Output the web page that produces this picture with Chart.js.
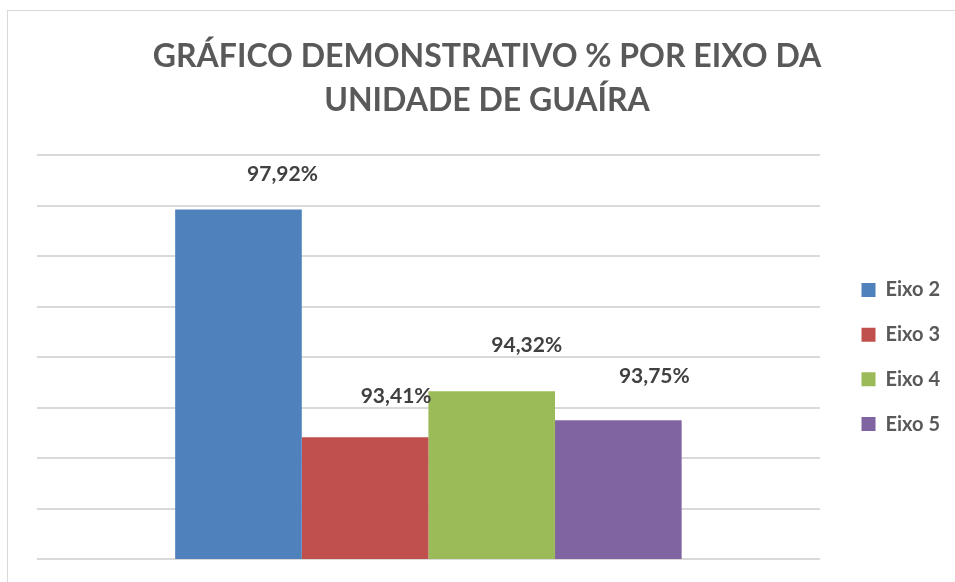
<!DOCTYPE html>
<html>
<head>
<meta charset="utf-8">
<script src="https://cdn.jsdelivr.net/npm/chart.js@4.4.0/dist/chart.umd.min.js"></script>
<style>
  html, body { margin: 0; padding: 0; background: #fff; overflow: hidden; }
  #frame { position: absolute; left: 7px; top: 10px; width: 1000px; height: 700px;
           border-left: 1.5px solid #d9d9d9; border-top: 1.5px solid #d9d9d9; }
  #wrap { position: absolute; left: 0; top: 0; width: 955px; height: 582px; }
</style>
</head>
<body>
<div id="frame"></div>
<div id="wrap"><canvas id="grafico"></canvas></div>
<script>
const titulo = ['GRÁFICO DEMONSTRATIVO % POR EIXO DA', 'UNIDADE DE GUAÍRA'];
const categorias = [''];
const eixos = ['Eixo 2', 'Eixo 3', 'Eixo 4', 'Eixo 5'];
const percentuais = [97.92, 93.41, 94.32, 93.75];
const escalaMin = 91;
const escalaMax = 99;

const cores = ['#4f81bd', '#c0504d', '#9bbb59', '#8064a2'];
// deslocamento dos rotulos (arrastados no original)
const rotuloDx = [44, 31, 35, 36];
const rotuloDy = [35, 41, 46, 44];

const fonte = 'Lato, "Open Sans", sans-serif';

const rotulosPlugin = {
    id: 'rotulos',
    afterDatasetsDraw(chart) {
        const ctx = chart.ctx;
        ctx.save();
        ctx.font = 'bold 21px ' + fonte;
        ctx.fillStyle = '#404040';
        ctx.textAlign = 'center';
        ctx.textBaseline = 'middle';
        chart.data.datasets.forEach((ds, i) => {
            const bar = chart.getDatasetMeta(i).data[0];
            const texto = ds.data[0].toFixed(2).replace('.', ',') + '%';
            ctx.fillText(texto, bar.x + rotuloDx[i], bar.y - rotuloDy[i]);
        });
        ctx.restore();
    }
};

const ctx = document.getElementById('grafico').getContext('2d');
new Chart(ctx, {
    type: 'bar',
    data: {
        labels: categorias,
        datasets: eixos.map((nome, i) => ({
            label: nome,
            data: [percentuais[i]],
            backgroundColor: cores[i],
            borderWidth: 0,
            barPercentage: 1,
            categoryPercentage: 0.647
        }))
    },
    options: {
        responsive: true,
        maintainAspectRatio: false,
        animation: false,
        layout: { padding: { left: 24, right: 5, top: 35, bottom: 23 } },
        scales: {
            x: { display: false },
            y: {
                position: 'left',
                min: escalaMin,
                max: escalaMax,
                ticks: { display: false, stepSize: 1 },
                grid: { color: '#d9d9d9', lineWidth: 2, drawTicks: false },
                border: { display: false },
                afterFit: s => { s.width = 13; }
            },
            y2: {
                position: 'right',
                min: 0,
                max: 1,
                ticks: { display: false },
                grid: { display: false, drawTicks: false },
                border: { display: false },
                afterFit: s => { s.width = 17; }
            }
        },
        plugins: {
            title: {
                display: true,
                text: titulo,
                color: '#595959',
                font: { family: fonte, size: 32, weight: 'bold', lineHeight: 1.375 },
                padding: { top: 0, bottom: 32 }
            },
            legend: {
                position: 'right',
                fullSize: false,
                labels: {
                    color: '#595959',
                    font: { family: fonte, size: 20, weight: 'bold' },
                    boxWidth: 14,
                    boxHeight: 14,
                    padding: 24.7
                }
            },
            tooltip: { enabled: false }
        }
    },
    plugins: [rotulosPlugin]
});
</script>
</body>
</html>
